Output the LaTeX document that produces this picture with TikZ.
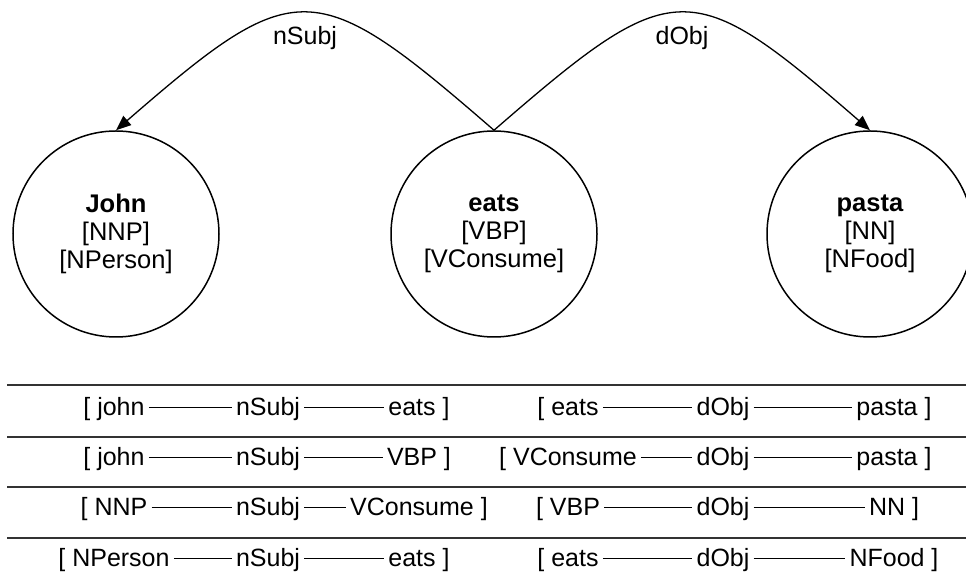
\documentclass[tikz,border=0pt]{standalone}
\usepackage{fontspec}
\setmainfont{Liberation Sans}
\usetikzlibrary{arrows.meta}

\begin{document}
\begin{tikzpicture}[x=1pt, y=1pt,
        tok/.style={circle, draw, line width=1.5pt, minimum size=206pt, inner sep=0pt, align=center, font=\fontsize{25.5}{28}\selectfont},
        dep/.style={-{Triangle[length=15pt, width=12pt]}, line width=1.3pt},
        lab/.style={font=\fontsize{25}{28}\selectfont},
        word/.style={anchor=base, inner xsep=4pt, inner ysep=0pt, text height=19pt, text depth=2pt, font=\fontsize{25}{28}\selectfont},
        link/.style={line width=1.2pt},
        tabrule/.style={line width=1.5pt, black!80}]

        \useasboundingbox (0,0) rectangle (966,585);

        \node[tok] (john) at (116,351) {\textbf{John}\\ {[NNP]}\\ {[NPerson]}};
        \node[tok] (eats) at (494,351) {\textbf{eats}\\ {[VBP]}\\ {[VConsume]}};
        \node[tok] (pasta) at (870,351) {\textbf{pasta}\\ {[NN]}\\ {[NFood]}};

        \draw[dep] (eats.north) .. controls (314,611) and (296,611) .. (john.north) node[lab, midway, below=9pt] (subj) {nSubj};
        \draw[dep] (eats.north) .. controls (674,611) and (690,611) .. (pasta.north) node[lab, midway, below=9pt] (obj) {dObj};

        \draw[tabrule] (7,200) -- (966,200);
        \draw[tabrule] (7,148) -- (966,148);
        \draw[tabrule] (7,98) -- (966,98);
        \draw[tabrule] (7,47) -- (966,47);

        % nSubj column
        \node[word] (a1) at (114,169) {[ john};
        \node[word] (b1) at (268,169) {nSubj};
        \node[word] (c1) at (419,169) {eats ]};
        \node[word] (a2) at (114,119) {[ john};
        \node[word] (b2) at (268,119) {nSubj};
        \node[word] (c2) at (419,119) {VBP ]};
        \node[word] (a3) at (114,69) {[ NNP};
        \node[word] (b3) at (268,69) {nSubj};
        \node[word] (c3) at (419,69) {VConsume ]};
        \node[word] (a4) at (114,18) {[ NPerson};
        \node[word] (b4) at (268,18) {nSubj};
        \node[word] (c4) at (419,18) {eats ]};

        % dObj column
        \node[word] (d1) at (568,169) {[ eats};
        \node[word] (e1) at (723,169) {dObj};
        \node[word] (f1) at (894,169) {pasta ]};
        \node[word] (d2) at (568,119) {[ VConsume};
        \node[word] (e2) at (723,119) {dObj};
        \node[word] (f2) at (894,119) {pasta ]};
        \node[word] (d3) at (568,69) {[ VBP};
        \node[word] (e3) at (723,69) {dObj};
        \node[word] (f3) at (894,69) {NN ]};
        \node[word] (d4) at (568,18) {[ eats};
        \node[word] (e4) at (723,18) {dObj};
        \node[word] (f4) at (894,18) {NFood ]};

        \draw[link] (a1) -- (b1) -- (c1);
        \draw[link] (a2) -- (b2) -- (c2);
        \draw[link] (a3) -- (b3) -- (c3);
        \draw[link] (a4) -- (b4) -- (c4);
        \draw[link] (d1) -- (e1) -- (f1);
        \draw[link] (d2) -- (e2) -- (f2);
        \draw[link] (d3) -- (e3) -- (f3);
        \draw[link] (d4) -- (e4) -- (f4);
    \end{tikzpicture}
\end{document}
